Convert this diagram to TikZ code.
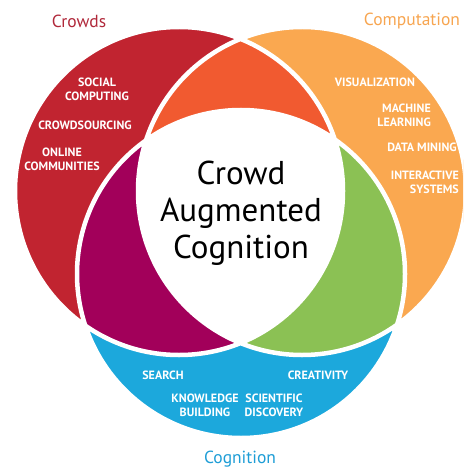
\documentclass[tikz,border=0pt]{standalone}
\usepackage{fontspec}
\setmainfont{PT Sans}
\definecolor{crowdred}{RGB}{193,36,48}
\definecolor{comporange}{RGB}{250,168,80}
\definecolor{cogblue}{RGB}{28,168,220}
\definecolor{lensorange}{RGB}{241,90,48}
\definecolor{lensmagenta}{RGB}{162,0,90}
\definecolor{lensgreen}{RGB}{139,193,84}
\definecolor{titlered}{RGB}{176,40,58}
\definecolor{titleorange}{RGB}{247,165,80}
\definecolor{titleblue}{RGB}{30,157,214}
\tikzset{
  item/.style={text=white, font=\fontsize{12}{14}\selectfont\bfseries, align=center, inner sep=0pt},
  ritem/.style={item, align=right},
  title/.style={font=\fontsize{17.5}{20}\selectfont, inner sep=0pt},
  centre/.style={font=\fontsize{33}{37}\selectfont, align=center, inner sep=0pt, text=black},
  border/.style={draw=white, line width=4.5pt}
}
\begin{document}
\begin{tikzpicture}[x=1pt,y=-1pt]
\useasboundingbox (0,0) rectangle (463,470);
\clip (0,0) rectangle (463,470);
\coordinate (R) at (179,191);
\coordinate (O) at (302,191);
\coordinate (B) at (241,274);
\fill[crowdred] (R) circle[radius=164pt];
\fill[comporange] (O) circle[radius=164pt];
\fill[cogblue] (B) circle[radius=164pt];
\begin{scope}
  \clip (R) circle[radius=164pt];
  \fill[lensorange] (O) circle[radius=164pt];
  \fill[lensmagenta] (B) circle[radius=164pt];
\end{scope}
\begin{scope}
  \clip (O) circle[radius=164pt];
  \fill[lensgreen] (B) circle[radius=164pt];
  \clip (R) circle[radius=164pt];
  \fill[white] (B) circle[radius=164pt];
\end{scope}
\path[border] (R) circle[radius=164pt] (O) circle[radius=164pt] (B) circle[radius=164pt];

\node[title, text=titlered] (tcrowds) at (79,21) {Crowds};
\node[title, text=titleorange] (tcomp) at (412,21) {Computation};
\node[title, text=titleblue] (tcog) at (240,459) {Cognition};

\node[centre] (main) at (241,213) {Crowd\\Augmented\\Cognition};

\node[item] (social) at (97,89) {SOCIAL\\COMPUTING};
\node[item] (crowdsourcing) at (85,125) {CROWDSOURCING};
\node[item] (online) at (62,159) {ONLINE\\COMMUNITIES};

\node[item] (vis) at (375,82) {VISUALIZATION};
\node[ritem, anchor=east] (ml) at (431,115) {MACHINE\\LEARNING};
\node[item] (dm) at (422,147) {DATA MINING};
\node[ritem, anchor=east] (inter) at (459,182) {INTERACTIVE\\SYSTEMS};

\node[item] (search) at (163,375) {SEARCH};
\node[item] (creat) at (318,375) {CREATIVITY};
\node[item] (know) at (205,405) {KNOWLEDGE\\BUILDING};
\node[item] (sci) at (274,405) {SCIENTIFIC\\DISCOVERY};
\end{tikzpicture}
\end{document}
